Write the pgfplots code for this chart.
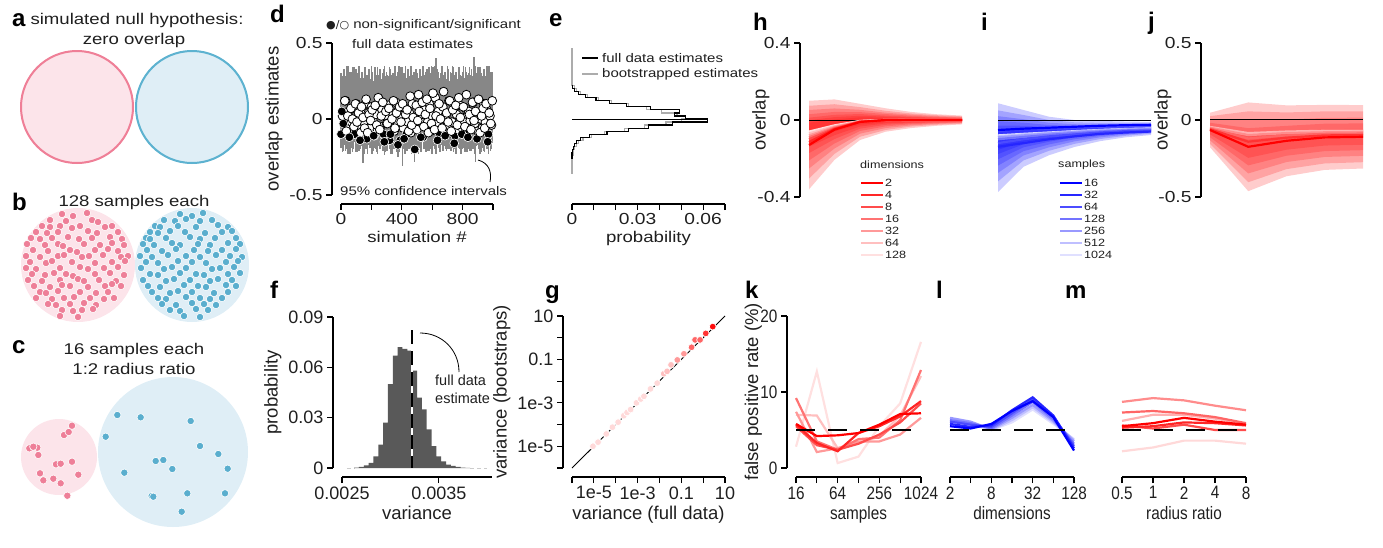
\documentclass[border=0pt]{standalone}
\usepackage{fontspec}
\setmainfont{Liberation Sans}
\newfontfamily\wide{Liberation Sans}[FakeStretch=1.2]
\newfontfamily\narrow{Liberation Sans}[FakeStretch=0.85]
\newfontfamily\symb{DejaVu Sans}
\usepackage{pgfplots}
\usepackage{pgfplotstable}
\pgfplotsset{compat=1.18}

\newcommand{\fs}[1]{\fontsize{#1}{#1}\selectfont}

\definecolor{pinkline}{HTML}{EF7F97}
\definecolor{pinkfill}{HTML}{FCE4EA}
\definecolor{blueline}{HTML}{5DB2D0}
\definecolor{bluefill}{HTML}{DFEEF6}
\definecolor{pinkdot}{HTML}{EE7F98}
\definecolor{bluedot}{HTML}{5AAECE}
\definecolor{histgray}{HTML}{595959}
\definecolor{cigray}{HTML}{878787}
\colorlet{txt}{black!88}

% simulations: estimate, 95% CI (lo, hi), class (b = black, w = white)
\pgfplotstableread{
x e lo hi c
5 0.05 -0.18 0.28 b
15 -0.03 -0.21 0.33 b
25 0.12 -0.16 0.25 w
35 -0.08 -0.20 0.30 w
45 0.02 -0.23 0.35 w
55 -0.12 -0.17 0.27 b
65 0.07 -0.19 0.31 w
75 0.00 -0.22 0.24 w
85 -0.05 -0.15 0.34 w
95 0.10 -0.20 0.29 w
105 -0.02 -0.22 0.30 w
115 0.04 -0.15 0.35 w
125 -0.14 -0.20 0.27 b
135 0.08 -0.18 0.31 w
145 0.01 -0.29 0.24 w
155 -0.06 -0.16 0.34 w
165 0.13 -0.20 0.29 w
175 -0.09 -0.23 0.28 w
185 0.03 -0.17 0.33 w
195 -0.01 -0.19 0.25 w
205 0.06 -0.23 0.31 w
215 -0.11 -0.17 0.24 b
225 0.09 -0.19 0.34 w
235 -0.04 -0.22 0.29 w
245 0.14 -0.15 0.28 w
255 -0.07 -0.20 0.33 w
265 0.02 -0.18 0.25 w
275 0.11 -0.21 0.30 w
285 -0.15 -0.24 0.35 b
295 0.05 -0.20 0.27 w
305 -0.03 -0.21 0.29 w
315 0.07 -0.16 0.28 w
325 -0.10 -0.20 0.33 b
335 0.00 -0.23 0.25 w
345 0.12 -0.17 0.30 w
355 -0.06 -0.19 0.35 w
365 0.04 -0.22 0.27 w
375 -0.17 -0.25 0.31 b
385 0.08 -0.20 0.24 w
395 -0.02 -0.18 0.34 w
405 0.10 -0.31 0.25 w
415 -0.13 -0.20 0.30 b
425 0.03 -0.18 0.35 w
435 0.06 -0.21 0.27 w
445 -0.08 -0.16 0.31 w
455 0.15 -0.20 0.24 w
465 -0.04 -0.23 0.34 w
475 0.01 -0.17 0.29 w
485 -0.20 -0.28 0.28 b
495 0.09 -0.22 0.33 w
505 -0.01 -0.17 0.27 w
515 0.05 -0.19 0.31 w
525 -0.12 -0.22 0.24 b
535 0.11 -0.15 0.34 w
545 -0.05 -0.20 0.29 w
555 0.03 -0.18 0.28 w
565 0.13 -0.21 0.33 w
575 -0.09 -0.16 0.25 w
585 0.07 -0.20 0.30 w
595 -0.03 -0.23 0.35 w
605 0.17 -0.16 0.34 w
615 -0.07 -0.20 0.29 w
625 0.02 -0.23 0.40 w
635 -0.14 -0.17 0.33 b
645 0.10 -0.19 0.25 w
655 0.00 -0.22 0.30 w
665 -0.06 -0.15 0.35 w
675 0.18 -0.20 0.27 w
685 -0.11 -0.18 0.31 b
695 0.04 -0.21 0.24 w
705 -0.02 -0.20 0.33 w
715 0.12 -0.18 0.25 w
725 -0.08 -0.21 0.30 w
735 0.06 -0.16 0.35 w
745 -0.16 -0.20 0.27 b
755 0.09 -0.23 0.31 w
765 -0.04 -0.17 0.24 w
775 0.14 -0.19 0.34 w
785 0.01 -0.22 0.29 w
795 -0.10 -0.15 0.28 b
805 0.08 -0.19 0.35 w
815 -0.05 -0.22 0.27 w
825 0.16 -0.15 0.31 w
835 -0.12 -0.20 0.24 b
845 0.03 -0.18 0.34 w
855 -0.07 -0.21 0.29 w
865 0.11 -0.16 0.28 w
875 -0.01 -0.20 0.41 w
885 0.05 -0.28 0.25 w
895 -0.13 -0.17 0.30 b
905 0.13 -0.20 0.24 w
915 -0.09 -0.23 0.34 w
925 0.02 -0.17 0.29 w
935 0.07 -0.19 0.28 w
945 -0.06 -0.22 0.33 w
955 0.10 -0.15 0.25 w
965 -0.15 -0.20 0.30 b
975 0.04 -0.18 0.35 w
985 -0.03 -0.21 0.27 w
995 0.12 -0.16 0.31 w
}\simdata

\pgfplotstableread{
x e lo hi c
0 -0.10 -0.19 0.30 b
10 0.02 -0.22 0.26 w
20 -0.03 -0.17 0.33 w
30 0.12 -0.21 0.28 w
40 -0.08 -0.16 0.35 w
50 0.05 -0.20 0.25 w
60 -0.06 -0.23 0.31 w
70 -0.02 -0.18 0.27 w
80 0.07 -0.20 0.34 w
90 -0.10 -0.15 0.29 b
100 0.10 -0.22 0.33 w
110 -0.04 -0.17 0.28 w
120 0.01 -0.21 0.35 w
130 -0.09 -0.16 0.25 w
140 0.06 -0.20 0.31 w
150 -0.02 -0.23 0.27 w
160 0.10 -0.18 0.34 w
170 -0.13 -0.20 0.29 b
180 0.04 -0.15 0.30 w
190 -0.06 -0.19 0.26 w
200 0.08 -0.17 0.35 w
210 -0.01 -0.21 0.25 w
220 -0.11 -0.16 0.31 b
230 0.03 -0.20 0.27 w
240 -0.07 -0.23 0.34 w
250 0.13 -0.18 0.29 w
260 -0.05 -0.20 0.30 w
270 0.06 -0.15 0.26 w
280 -0.10 -0.19 0.33 b
290 0.02 -0.22 0.28 w
300 -0.03 -0.21 0.31 w
310 0.09 -0.16 0.27 w
320 -0.14 -0.20 0.34 b
330 0.05 -0.23 0.29 w
340 0.00 -0.18 0.30 w
350 -0.08 -0.20 0.26 w
360 0.11 -0.15 0.33 w
370 -0.02 -0.19 0.28 w
380 0.06 -0.22 0.35 w
390 -0.14 -0.17 0.25 b
400 0.02 -0.16 0.34 w
410 -0.06 -0.20 0.29 w
420 0.07 -0.23 0.30 w
430 -0.10 -0.18 0.26 b
440 -0.02 -0.20 0.33 w
450 0.04 -0.15 0.28 w
460 -0.09 -0.19 0.35 w
470 0.10 -0.22 0.25 w
480 -0.04 -0.17 0.31 w
490 0.01 -0.21 0.27 w
500 -0.07 -0.20 0.30 w
510 0.16 -0.23 0.26 w
520 -0.01 -0.18 0.33 w
530 0.03 -0.20 0.28 w
540 -0.12 -0.15 0.35 b
550 0.06 -0.19 0.25 w
560 -0.05 -0.22 0.31 w
570 -0.02 -0.17 0.27 w
580 0.10 -0.21 0.34 w
590 -0.08 -0.16 0.29 w
600 0.02 -0.23 0.33 w
610 -0.06 -0.18 0.28 w
620 0.14 -0.20 0.35 w
630 -0.03 -0.15 0.25 w
640 0.05 -0.19 0.31 w
650 -0.10 -0.22 0.27 b
660 0.00 -0.17 0.34 w
670 0.08 -0.21 0.29 w
680 -0.06 -0.16 0.30 w
690 0.02 -0.20 0.26 w
700 -0.04 -0.18 0.35 w
710 0.12 -0.20 0.25 w
720 -0.09 -0.15 0.31 w
730 -0.02 -0.19 0.27 w
740 0.06 -0.22 0.34 w
750 -0.11 -0.17 0.29 b
760 0.03 -0.21 0.30 w
770 -0.07 -0.16 0.26 w
780 0.09 -0.20 0.33 w
790 -0.05 -0.23 0.28 w
800 0.01 -0.20 0.31 w
810 -0.02 -0.15 0.27 w
820 0.07 -0.19 0.34 w
830 -0.10 -0.22 0.29 b
840 0.05 -0.17 0.30 w
850 -0.01 -0.21 0.26 w
860 -0.06 -0.16 0.33 w
870 0.11 -0.20 0.28 w
880 -0.03 -0.23 0.35 w
890 0.02 -0.18 0.25 w
900 -0.08 -0.15 0.34 w
910 0.04 -0.19 0.29 w
920 0.00 -0.22 0.30 w
930 -0.06 -0.17 0.26 w
940 0.10 -0.21 0.33 w
950 -0.02 -0.16 0.28 w
960 0.06 -0.20 0.35 w
970 -0.10 -0.23 0.25 b
980 0.02 -0.18 0.31 w
990 -0.04 -0.20 0.27 w
}\simdatab

\pgfplotsset{
  panel/.style={scale only axis, enlargelimits=false, clip=false, scaled ticks=false,
    axis line style={-, line width=1.1pt, black},
    tick style={line width=1.1pt, black},
    tick align=outside, major tick length=6pt,
    axis x line shift=9pt, axis y line shift=9pt,
    tick label style={text=txt},
    ylabel style={font=\fs{18.5}, text=txt},
    xlabel style={text=txt}},
  wfont/.style={tick label style={font=\wide\fs{16}}, xlabel style={font=\wide\fs{15.5}}},
  pfont/.style={tick label style={font=\fs{18}}, xlabel style={font=\fs{18.5}}},
  nfont/.style={tick label style={font=\narrow\fs{18}}, xlabel style={font=\narrow\fs{18}}},
  ylabat/.style={ylabel style={at={(axis description cs:#1,0.5)}, anchor=south}},
  band/.style={fill=#1, fill opacity=0.2, draw=none, forget plot},
  ln/.style={line width=2.2pt, #1},
  simpts/.style={scatter, only marks, scatter src=explicit symbolic,
    scatter/classes={w={mark=*, mark size=4.4pt, fill=white, draw=black, line width=0.8pt},
                     b={mark=*, mark size=4.4pt, fill=black, draw=white, line width=0.6pt}}},
}

\begin{document}
\begin{tikzpicture}
\useasboundingbox (0,0) rectangle (1383pt,-548pt);

% ---------- a, b, c : sketches ----------
\begin{axis}[at={(0pt,0pt)}, anchor=north west, scale only axis, width=270pt, height=548pt,
  xmin=0, xmax=270, ymin=0, ymax=548, y dir=reverse, hide axis, clip=false]
\fill[pinkfill] (axis cs:77,107) circle[radius=57];
\draw[pinkline, line width=2pt] (axis cs:77,107) circle[radius=56];
\fill[bluefill] (axis cs:192,107) circle[radius=57];
\draw[blueline, line width=2pt] (axis cs:192,107) circle[radius=56];
\fill[pinkfill] (axis cs:78,265) circle[radius=57];
\fill[bluefill] (axis cs:192,265) circle[radius=57];
\fill[pinkfill] (axis cs:59,457) circle[radius=38];
\fill[bluefill] (axis cs:173,452) circle[radius=75];
\addplot[only marks, mark=*, mark size=3.7pt, mark options={fill=pinkdot, draw=white, line width=0.6pt}] coordinates {
(62,214)(73,216)(87,213)(50,220)(66,221)(92,220)(98,222)
(42,226)(50,227)(60,226)(72,228)(80,226)(105,227)(112,226)
(36,232)(47,233)(58,232)(88,231)(97,233)(118,232)
(31,238)(40,239)(52,238)(68,237)(79,239)(92,238)(110,237)(122,239)
(27,244)(45,245)(58,244)(63,246)(84,244)(100,245)(112,243)(124,245)
(33,250)(48,251)(70,250)(77,252)(95,250)(108,249)(118,251)
(26,256)(40,257)(58,256)(64,255)(82,257)(89,256)(103,255)(121,257)(128,256)
(30,262)(46,263)(52,261)(72,262)(95,263)(112,262)(125,261)
(26,268)(36,269)(60,268)(80,267)(88,269)(104,268)(118,267)
(32,274)(45,275)(54,273)(66,274)(73,276)(95,274)(110,273)(124,275)
(28,280)(42,281)(60,280)(78,279)(84,281)(99,280)(116,281)
(34,286)(50,287)(62,285)(70,286)(88,287)(105,286)(112,284)(121,286)
(40,292)(46,293)(58,291)(80,292)(96,293)(108,292)
(36,298)(52,299)(64,298)(74,297)(90,298)(104,299)(114,298)
(48,304)(56,305)(70,304)(84,303)(96,305)
(62,310)(73,311)(82,310)(93,309)(60,316)(78,317)};
\addplot[only marks, mark=*, mark size=3.7pt, mark options={fill=bluedot, draw=white, line width=0.6pt}] coordinates {
(180,214)(192,216)(203,213)(164,220)(175,221)(186,219)(200,221)(212,220)
(155,226)(160,227)(178,226)(196,227)(218,225)(228,227)
(150,232)(158,233)(170,231)(185,232)(205,233)(222,232)(232,231)
(146,238)(150,239)(166,238)(190,237)(200,239)(215,238)(236,238)
(143,244)(154,245)(172,243)(180,245)(198,244)(210,245)(228,243)(240,244)
(147,250)(162,251)(176,249)(194,250)(208,251)(222,250)(236,249)
(140,256)(152,257)(168,255)(186,256)(200,257)(216,255)(230,256)(242,257)
(146,262)(158,263)(178,261)(192,262)(206,263)(226,262)(238,261)
(141,268)(164,269)(172,267)(186,268)(212,269)(220,268)(234,267)
(150,274)(158,275)(180,273)(196,274)(204,275)(228,274)(240,273)
(143,280)(166,281)(174,279)(190,280)(210,281)(218,279)(232,280)
(148,286)(160,287)(184,285)(198,286)(206,287)(226,285)(236,286)
(152,292)(170,293)(178,291)(192,292)(214,293)(228,292)
(158,298)(166,299)(186,297)(200,298)(210,299)(222,298)
(162,304)(176,305)(192,303)(204,304)(216,305)
(170,310)(180,311)(196,309)(208,310)(184,316)(200,317)};
\addplot[only marks, mark=*, mark size=3.7pt, mark options={fill=pinkdot, draw=white, line width=0.6pt}] coordinates {
(29.3,448.3)(37.3,447.7)(38.3,455)(64,435)(68.7,432)(72,425.7)(56,464.3)(60.7,463.7)
(72,461.7)(40,473.3)(43.3,480.3)(53.3,478.7)(60.7,483.3)(78.3,474.7)(67.3,495.7)(33.3,446.7)};
\addplot[only marks, mark=*, mark size=3.7pt, mark options={fill=bluedot, draw=white, line width=0.6pt}] coordinates {
(117.3,415)(140.7,417.3)(190.7,421)(105.7,436.7)(200,446)(218.3,454)(155.7,461)(163.3,460)
(172.3,469)(124.3,472.7)(227.7,468.7)(187.3,493.3)(225,493.3)(151.7,496)(153.3,496.7)(181.7,511.7)};
\end{axis}

% ---------- d ----------
\begin{axis}[panel, wfont, axis x line*=bottom, axis y line*=left,
  at={(341pt,-195pt)}, anchor=south west, width=152pt, height=152pt,
  xmin=0, xmax=1000, ymin=-0.5, ymax=0.5,
  xtick={0,200,400,600,800,1000}, xticklabels={0,,400,,800,},
  ytick={-0.5,0,0.5}, yticklabels={-0.5,0,0.5},
  xlabel={simulation \#}, ylabel={overlap estimates}]
\addplot[ycomb, cigray, line width=1.5pt, mark=none] table[x=x, y=hi] \simdata;
\addplot[ycomb, cigray, line width=1.5pt, mark=none] table[x=x, y=lo] \simdata;
\addplot[ycomb, cigray, line width=1.5pt, mark=none] table[x=x, y=hi] \simdatab;
\addplot[ycomb, cigray, line width=1.5pt, mark=none] table[x=x, y=lo] \simdatab;
\addplot[simpts] table[x=x, y=e, meta=c] \simdatab;
\addplot[simpts] table[x=x, y=e, meta=c] \simdata;
\end{axis}

% ---------- e ----------
\begin{axis}[panel, wfont, axis x line*=bottom, axis y line=none,
  at={(572pt,-195pt)}, anchor=south west, width=153pt, height=152pt,
  xmin=0, xmax=0.07, ymin=-0.5, ymax=0.5,
  xtick={0,0.01,0.02,0.03,0.04,0.05,0.06,0.07}, xticklabels={0,,,0.03,,,0.06,},
  xlabel={probability}]
\addplot[gray!65, line width=1.2pt, const plot mark right] coordinates {
(0,-0.36)(0.0005,-0.24)(0.0008,-0.22)(0.0012,-0.20)(0.002,-0.18)(0.003,-0.16)(0.005,-0.14)
(0.009,-0.12)(0.015,-0.10)(0.024,-0.08)(0.033,-0.06)(0.043,-0.04)(0.05,-0.02)(0.052,0)
(0.048,0.02)(0.041,0.04)(0.034,0.06)(0.026,0.08)(0.018,0.10)(0.012,0.12)(0.007,0.14)
(0.004,0.16)(0.002,0.18)(0.001,0.20)(0,0.22)(0,0.47)};
\addplot[black, line width=1.2pt, const plot mark right] coordinates {
(0,-0.26)(0.0003,-0.22)(0.0008,-0.20)(0.0012,-0.18)(0.002,-0.16)(0.004,-0.14)(0.008,-0.12)
(0.016,-0.10)(0.026,-0.08)(0.035,-0.06)(0.046,-0.04)(0.062,-0.02)(0.052,0)(0.047,0.02)
(0.049,0.04)(0.036,0.06)(0.025,0.08)(0.017,0.10)(0.011,0.12)(0.006,0.14)(0.003,0.16)
(0.001,0.18)(0.0003,0.20)(0,0.22)};
\addplot[black, line width=1pt] coordinates {(0,0)(0.061,0)};
\end{axis}

% ---------- f ----------
\begin{axis}[panel, pfont, axis x line*=bottom, axis y line*=left,
  at={(342pt,-468pt)}, anchor=south west, width=150pt, height=151pt,
  xmin=0.0025, xmax=0.00405, ymin=0, ymax=0.09,
  xtick={0.0025,0.0035}, xticklabels={0.0025,0.0035},
  ytick={0,0.03,0.06,0.09}, yticklabels={0,0.03,0.06,0.09},
  xlabel={variance}, ylabel={probability}]
\addplot[gray!40, line width=1pt, dash pattern=on 4pt off 3pt] coordinates {(0.00255,0)(0.002625,0)};
\addplot[gray!40, line width=1pt, dash pattern=on 4pt off 3pt] coordinates {(0.003825,0)(0.004,0)};
\addplot[ybar interval, fill=histgray, draw=none] coordinates {
(0.002625,0.0002)(0.002675,0.0006)(0.002725,0.0016)(0.002775,0.003)(0.002825,0.007)
(0.002875,0.014)(0.002925,0.027)(0.002975,0.050)(0.003025,0.067)(0.003075,0.072)
(0.003125,0.071)(0.003175,0.070)(0.003225,0.058)(0.003275,0.042)(0.003325,0.035)
(0.003375,0.023)(0.003425,0.013)(0.003475,0.007)(0.003525,0.004)(0.003575,0.002)
(0.003625,0.0012)(0.003675,0.0006)(0.003725,0.0003)(0.003775,0.0001)(0.003825,0)};
\addplot[white, line width=2pt] coordinates {(0.00322,0)(0.00322,0.082)};
\addplot[black, line width=2pt, dash pattern=on 14pt off 7pt] coordinates {(0.00322,0.082)(0.00322,0)};
\end{axis}

% ---------- g ----------
\begin{axis}[panel, pfont, axis x line*=bottom, axis y line*=left,
  at={(572pt,-468pt)}, anchor=south west, width=153pt, height=152pt,
  xmode=log, ymode=log, xmin=1e-6, xmax=10, ymin=1e-6, ymax=10,
  minor tick length=0pt,
  xtick={1e-6,1e-5,1e-4,1e-3,1e-2,1e-1,1,10}, xticklabels={,1e-5,,1e-3,,0.1,,10},
  ytick={1e-6,1e-5,1e-4,1e-3,1e-2,1e-1,1,10}, yticklabels={,1e-5,,1e-3,,0.1,,10},
  xlabel={variance (full data)}, ylabel={variance (bootstraps)}]
\addplot[black, line width=0.9pt] coordinates {(1e-6,1e-6)(10,10)};
\addplot[only marks, mark=*, mark size=3.4pt, mark options={fill=red!15, draw=white, line width=0.7pt}] coordinates {
(9.1e-6,1e-5)(1.55e-5,1.55e-5)(3.7e-5,3.7e-5)(7.1e-5,7.6e-5)(1.29e-4,1.29e-4)(2.34e-4,2.57e-4)
(3.3e-4,3.6e-4)(4.8e-4,4.9e-4)(8.9e-4,1e-3)(1.4e-3,1.5e-3)(1.95e-3,2.0e-3)(3.9e-3,4.4e-3)(7.9e-3,8.1e-3)};
\addplot[only marks, mark=*, mark size=3.4pt, mark options={fill=red!25, draw=white, line width=0.7pt}] coordinates {
(0.0158,0.0219)(0.0224,0.0282)(0.0339,0.0562)};
\addplot[only marks, mark=*, mark size=3.4pt, mark options={fill=red!40, draw=white, line width=0.7pt}] coordinates {
(0.066,0.095)(0.132,0.182)};
\addplot[only marks, mark=*, mark size=3.4pt, mark options={fill=red!60, draw=white, line width=0.7pt}] coordinates {
(0.295,0.363)(0.427,0.794)(0.724,0.794)};
\addplot[only marks, mark=*, mark size=3.4pt, mark options={fill=red!80, draw=white, line width=0.7pt}] coordinates {
(1.32,1.58)};
\addplot[only marks, mark=*, mark size=3.4pt, mark options={fill=red!95, draw=white, line width=0.7pt}] coordinates {
(2.75,3.24)};
\end{axis}

% ---------- h ----------
\begin{axis}[panel, wfont, axis y line*=left, axis x line=none, ylabat=-0.235,
  at={(809pt,-197pt)}, anchor=south west, width=153pt, height=154pt,
  xmin=4, xmax=10, ymin=-0.4, ymax=0.4,
  ytick={-0.4,0,0.4}, yticklabels={-0.4,0,0.4}, ylabel={overlap}]
\addplot[band=red] coordinates {(4,-0.36)(5,-0.207)(6,-0.104)(7,-0.061)(8,-0.042)(9,-0.03)(10,-0.023)(10,0.023)(9,0.03)(8,0.042)(7,0.061)(6,0.084)(5,0.107)(4,0.10)} -- cycle;
\addplot[band=red] coordinates {(4,-0.304)(5,-0.176)(6,-0.087)(7,-0.052)(8,-0.034)(9,-0.025)(10,-0.019)(10,0.019)(9,0.025)(8,0.034)(7,0.048)(6,0.067)(5,0.082)(4,0.074)} -- cycle;
\addplot[band=red] coordinates {(4,-0.252)(5,-0.148)(6,-0.071)(7,-0.042)(8,-0.028)(9,-0.02)(10,-0.015)(10,0.015)(9,0.02)(8,0.028)(7,0.038)(6,0.053)(5,0.06)(4,0.052)} -- cycle;
\addplot[band=red] coordinates {(4,-0.21)(5,-0.122)(6,-0.057)(7,-0.033)(8,-0.022)(9,-0.016)(10,-0.012)(10,0.012)(9,0.016)(8,0.022)(7,0.031)(6,0.041)(5,0.042)(4,0.03)} -- cycle;
\addplot[band=red] coordinates {(4,-0.172)(5,-0.099)(6,-0.045)(7,-0.025)(8,-0.017)(9,-0.012)(10,-0.009)(10,0.009)(9,0.012)(8,0.017)(7,0.023)(6,0.031)(5,0.027)(4,0.012)} -- cycle;
\addplot[band=red] coordinates {(4,-0.139)(5,-0.079)(6,-0.034)(7,-0.018)(8,-0.013)(9,-0.009)(10,-0.007)(10,0.007)(9,0.009)(8,0.013)(7,0.018)(6,0.022)(5,0.015)(4,-0.001)} -- cycle;
\addplot[band=red] coordinates {(4,-0.106)(5,-0.059)(6,-0.024)(7,-0.012)(8,-0.008)(9,-0.006)(10,-0.005)(10,0.005)(9,0.006)(8,0.008)(7,0.012)(6,0.014)(5,0.003)(4,-0.014)} -- cycle;
\addplot[black, line width=1pt] coordinates {(4,0)(10,0)};
\addplot[ln=red!12] coordinates {(4,-0.06)(5,-0.028)(6,-0.005)(7,0)(8,0)(9,0)(10,0)};
\addplot[ln=red!25] coordinates {(4,-0.07)(5,-0.032)(6,-0.006)(7,0)(8,0)(9,0)(10,0)};
\addplot[ln=red!40] coordinates {(4,-0.08)(5,-0.036)(6,-0.007)(7,-0.001)(8,0)(9,0)(10,0)};
\addplot[ln=red!55] coordinates {(4,-0.09)(5,-0.04)(6,-0.008)(7,-0.001)(8,0)(9,0)(10,0)};
\addplot[ln=red!70] coordinates {(4,-0.10)(5,-0.044)(6,-0.009)(7,-0.002)(8,0)(9,0)(10,0)};
\addplot[ln=red!85] coordinates {(4,-0.115)(5,-0.047)(6,-0.01)(7,-0.002)(8,0)(9,0)(10,0)};
\addplot[ln=red] coordinates {(4,-0.13)(5,-0.05)(6,-0.01)(7,0)(8,0)(9,0)(10,0)};
\end{axis}

% ---------- i ----------
\begin{axis}[panel, hide axis,
  at={(998pt,-197pt)}, anchor=south west, width=153pt, height=154pt,
  xmin=1, xmax=7, ymin=-0.4, ymax=0.4]
\addplot[band=blue] coordinates {(1,-0.374)(2,-0.243)(3,-0.183)(4,-0.14)(5,-0.11)(6,-0.09)(7,-0.078)(7,-0.01)(6,-0.008)(5,-0.005)(4,0)(3,0.017)(2,0.052)(1,0.087)} -- cycle;
\addplot[band=blue] coordinates {(1,-0.319)(2,-0.21)(3,-0.16)(4,-0.124)(5,-0.099)(6,-0.082)(7,-0.071)(7,-0.017)(6,-0.016)(5,-0.015)(4,-0.012)(3,0)(2,0.026)(1,0.05)} -- cycle;
\addplot[band=blue] coordinates {(1,-0.275)(2,-0.184)(3,-0.142)(4,-0.111)(5,-0.09)(6,-0.076)(7,-0.066)(7,-0.023)(6,-0.023)(5,-0.023)(4,-0.022)(3,-0.014)(2,0.004)(1,0.02)} -- cycle;
\addplot[band=blue] coordinates {(1,-0.237)(2,-0.162)(3,-0.127)(4,-0.1)(5,-0.083)(6,-0.07)(7,-0.062)(7,-0.027)(6,-0.029)(5,-0.03)(4,-0.03)(3,-0.026)(2,-0.014)(1,-0.006)} -- cycle;
\addplot[band=blue] coordinates {(1,-0.204)(2,-0.142)(3,-0.113)(4,-0.09)(5,-0.076)(6,-0.065)(7,-0.058)(7,-0.032)(6,-0.034)(5,-0.036)(4,-0.037)(3,-0.037)(2,-0.03)(1,-0.029)} -- cycle;
\addplot[band=blue] coordinates {(1,-0.177)(2,-0.126)(3,-0.102)(4,-0.082)(5,-0.07)(6,-0.061)(7,-0.054)(7,-0.035)(6,-0.038)(5,-0.041)(4,-0.043)(3,-0.046)(2,-0.043)(1,-0.048)} -- cycle;
\addplot[band=blue] coordinates {(1,-0.155)(2,-0.113)(3,-0.093)(4,-0.076)(5,-0.066)(6,-0.058)(7,-0.052)(7,-0.038)(6,-0.042)(5,-0.045)(4,-0.048)(3,-0.053)(2,-0.054)(1,-0.063)} -- cycle;
\addplot[black, line width=1pt] coordinates {(1,0)(7,0)};
\addplot[ln=blue!12] coordinates {(1,-0.08)(2,-0.072)(3,-0.065)(4,-0.058)(5,-0.052)(6,-0.047)(7,-0.044)};
\addplot[ln=blue!25] coordinates {(1,-0.085)(2,-0.075)(3,-0.067)(4,-0.06)(5,-0.053)(6,-0.048)(7,-0.045)};
\addplot[ln=blue!40] coordinates {(1,-0.09)(2,-0.08)(3,-0.07)(4,-0.062)(5,-0.055)(6,-0.05)(7,-0.047)};
\addplot[ln=blue!55] coordinates {(1,-0.10)(2,-0.088)(3,-0.077)(4,-0.068)(5,-0.06)(6,-0.054)(7,-0.05)};
\addplot[ln=blue!70] coordinates {(1,-0.12)(2,-0.10)(3,-0.085)(4,-0.075)(5,-0.065)(6,-0.058)(7,-0.055)};
\addplot[ln=blue!85] coordinates {(1,-0.139)(2,-0.12)(3,-0.10)(4,-0.085)(5,-0.072)(6,-0.065)(7,-0.06)};
\addplot[ln=blue] coordinates {(1,-0.052)(2,-0.045)(3,-0.04)(4,-0.035)(5,-0.03)(6,-0.027)(7,-0.025)};
\end{axis}

% ---------- j ----------
\begin{axis}[panel, wfont, axis y line*=left, axis x line=none, ylabat=-0.229,
  at={(1210pt,-197pt)}, anchor=south west, width=153pt, height=154pt,
  xmin=-1, xmax=3, ymin=-0.5, ymax=0.5,
  ytick={-0.5,0,0.5}, yticklabels={-0.5,0,0.5}, ylabel={overlap}]
\addplot[band=red] coordinates {(-1,-0.177)(0,-0.462)(1,-0.365)(2,-0.324)(3,-0.315)(3,0.097)(2,0.098)(1,0.095)(0,0.114)(-1,0.047)} -- cycle;
\addplot[band=red] coordinates {(-1,-0.155)(0,-0.404)(1,-0.319)(2,-0.282)(3,-0.274)(3,0.056)(2,0.056)(1,0.049)(0,0.056)(-1,0.025)} -- cycle;
\addplot[band=red] coordinates {(-1,-0.132)(0,-0.347)(1,-0.273)(2,-0.24)(3,-0.233)(3,0.015)(2,0.014)(1,0.003)(0,-0.001)(-1,0.002)} -- cycle;
\addplot[band=red] coordinates {(-1,-0.112)(0,-0.295)(1,-0.232)(2,-0.202)(3,-0.196)(3,-0.022)(2,-0.024)(1,-0.038)(0,-0.053)(-1,-0.018)} -- cycle;
\addplot[band=red] coordinates {(-1,-0.093)(0,-0.246)(1,-0.193)(2,-0.166)(3,-0.161)(3,-0.057)(2,-0.06)(1,-0.077)(0,-0.102)(-1,-0.037)} -- cycle;
\addplot[black, line width=1pt] coordinates {(-1,0)(3,0)};
\addplot[ln=red!30] coordinates {(-1,-0.045)(0,-0.085)(1,-0.075)(2,-0.07)(3,-0.07)};
\addplot[ln=red!45] coordinates {(-1,-0.05)(0,-0.098)(1,-0.085)(2,-0.08)(3,-0.078)};
\addplot[ln=red!60] coordinates {(-1,-0.055)(0,-0.12)(1,-0.10)(2,-0.09)(3,-0.088)};
\addplot[ln=red!80] coordinates {(-1,-0.06)(0,-0.141)(1,-0.115)(2,-0.10)(3,-0.098)};
\addplot[ln=red] coordinates {(-1,-0.065)(0,-0.174)(1,-0.135)(2,-0.113)(3,-0.109)};
\end{axis}

% ---------- k ----------
\begin{axis}[panel, nfont, axis x line*=bottom, axis y line*=left, ylabat=-0.245,
  at={(796pt,-468pt)}, anchor=south west, width=125pt, height=152pt,
  xmin=4, xmax=10, ymin=0, ymax=20,
  xtick={4,...,10}, xticklabels={16,,64,,256,,1024},
  ytick={0,10,20}, yticklabels={0,10,20},
  xlabel={samples}, ylabel={false positive rate (\%)}]
\addplot[ln=red!12] coordinates {(4,2.8)(5,12.7)(6,0.65)(7,1.5)(8,5.5)(9,8.5)(10,16.6)};
\addplot[ln=red!25] coordinates {(4,7.0)(5,6.9)(6,2.6)(7,3.2)(8,4.2)(9,6.9)(10,12.1)};
\addplot[ln=red!40] coordinates {(4,7.4)(5,2.1)(6,2.6)(7,3.5)(8,3.5)(9,4.4)(10,6.6)};
\addplot[ln=red!55] coordinates {(4,9.2)(5,3.5)(6,2.4)(7,3.8)(8,4.0)(9,6.3)(10,12.9)};
\addplot[ln=red!70] coordinates {(4,5.5)(5,3.0)(6,2.4)(7,3.2)(8,4.4)(9,6.0)(10,8.5)};
\addplot[ln=red!85] coordinates {(4,5.7)(5,3.3)(6,2.2)(7,4.6)(8,5.5)(9,6.8)(10,8.8)};
\addplot[ln=red] coordinates {(4,5.8)(5,4.2)(6,4.3)(7,4.6)(8,5.7)(9,7.1)(10,7.2)};
\addplot[black, line width=2.6pt, dash pattern=on 19pt off 13pt] coordinates {(4,5)(10,5)};
\end{axis}

% ---------- l ----------
\begin{axis}[panel, nfont, axis x line*=bottom, axis y line=none,
  at={(950pt,-468pt)}, anchor=south west, width=124pt, height=152pt,
  xmin=1, xmax=7, ymin=0, ymax=20,
  xtick={1,...,7}, xticklabels={2,,8,,32,,128}, xlabel={dimensions}]
\addplot[ln=blue!12] coordinates {(1,6.2)(2,5.8)(3,5.0)(4,6.0)(5,7.7)(6,5.8)(7,3.8)};
\addplot[ln=blue!25] coordinates {(1,6.4)(2,6.0)(3,5.0)(4,6.3)(5,8.0)(6,6.0)(7,3.7)};
\addplot[ln=blue!40] coordinates {(1,6.6)(2,6.1)(3,5.1)(4,6.6)(5,8.3)(6,6.2)(7,3.5)};
\addplot[ln=blue!55] coordinates {(1,6.3)(2,5.9)(3,5.2)(4,6.9)(5,8.7)(6,6.4)(7,3.2)};
\addplot[ln=blue!70] coordinates {(1,6.1)(2,5.7)(3,5.4)(4,7.2)(5,9.0)(6,6.7)(7,2.9)};
\addplot[ln=blue!85] coordinates {(1,5.8)(2,5.4)(3,5.6)(4,7.6)(5,9.3)(6,6.9)(7,2.6)};
\addplot[ln=blue] coordinates {(1,5.5)(2,5.2)(3,5.8)(4,7.5)(5,8.8)(6,6.7)(7,2.3)};
\addplot[black, line width=2.6pt, dash pattern=on 19pt off 13pt] coordinates {(1,5)(6.75,5)};
\end{axis}

% ---------- m ----------
\begin{axis}[panel, nfont, axis x line*=bottom, axis y line=none,
  at={(1122pt,-468pt)}, anchor=south west, width=124pt, height=152pt,
  xmin=-1, xmax=3, ymin=0, ymax=20,
  xtick={-1,...,3}, xticklabels={0.5,1,2,4,8}, xlabel={radius ratio}]
\addplot[ln=red!15] coordinates {(-1,2.2)(0,2.7)(1,3.6)(2,3.6)(3,3.2)};
\addplot[ln=red!30] coordinates {(-1,6.2)(0,7.0)(1,7.0)(2,6.5)(3,5.8)};
\addplot[ln=red!45] coordinates {(-1,8.7)(0,9.2)(1,8.9)(2,8.2)(3,7.6)};
\addplot[ln=red!60] coordinates {(-1,7.3)(0,7.5)(1,7.2)(2,6.7)(3,5.9)};
\addplot[ln=red!70] coordinates {(-1,5.6)(0,5.2)(1,5.7)(2,5.0)(3,5.0)};
\addplot[ln=red!85] coordinates {(-1,5.3)(0,5.5)(1,6.0)(2,5.9)(3,5.6)};
\addplot[ln=red] coordinates {(-1,5.5)(0,5.9)(1,6.6)(2,6.1)(3,5.7)};
\addplot[black, line width=2.6pt, dash pattern=on 19pt off 13pt] coordinates {(-1,5)(2.95,5)};
\end{axis}

% ---------- texts, letters, legends ----------
\begin{scope}[x=1pt, y=-1pt, text=txt]
\foreach \l/\x/\y in {a/12/27, b/12/210, c/12/353, d/270/23, e/549/27, f/270/298, g/545/298,
  h/753/31, i/981/31, j/1148/30, k/745/298, l/936/298, m/1065/298}
  \node[anchor=base west, inner sep=0pt, font=\bfseries\fs{24}, text=black] at (\x,\y) {\l};
\node[anchor=base, font=\wide\fs{15.5}] at (137,25) {simulated null hypothesis:};
\node[anchor=base, font=\wide\fs{15.5}] at (134,45) {zero overlap};
\node[anchor=base, font=\wide\fs{15.5}] at (134,206) {128 samples each};
\node[anchor=base, font=\wide\fs{15.5}] at (134,354) {16 samples each};
\node[anchor=base, font=\wide\fs{15.5}] at (134,374) {1:2 radius ratio};
% d notes
\node[anchor=base west, inner sep=0pt, font=\wide\fs{12.5}] at (326,29) {{\symb\fs{11}●/○} non-significant/significant};
\node[anchor=base west, inner sep=0pt, font=\wide\fs{12.5}] at (352,49) {full data estimates};
\node[anchor=base west, inner sep=0pt, font=\wide\fs{12.5}] at (340,196) {95\% confidence intervals};
\draw[black, line width=0.8pt] (478,160) .. controls (489,163) and (492,172) .. (490,182);
% e legend
\draw[black, line width=1.2pt] (582,58) -- (598,58);
\node[anchor=west, inner sep=0pt, font=\wide\fs{12.5}] at (602,58) {full data estimates};
\draw[gray!65, line width=1.2pt] (582,74) -- (598,74);
\node[anchor=west, inner sep=0pt, font=\wide\fs{12.5}] at (602,74) {bootstrapped estimates};
% f note
\node[anchor=base west, inner sep=0pt, font=\fs{14.5}] at (435,385) {full data};
\node[anchor=base west, inner sep=0pt, font=\fs{14.5}] at (435,403) {estimate};
\draw[black, line width=0.8pt] (420,333) .. controls (442,333) and (459,350) .. (459,372);
% h legend
\node[anchor=west, inner sep=0pt, font=\wide\fs{10.5}] at (860,165) {dimensions};
\foreach \c/\t [count=\i from 0] in {red/2, red!85/4, red!70/8, red!55/16, red!40/32, red!25/64, red!12/128} {
  \draw[\c, line width=2pt] (861,{183+12*\i}) -- (883,{183+12*\i});
  \node[anchor=west, inner sep=0pt, font=\wide\fs{10.5}] at (885,{183+12*\i}) {\t};
}
% i legend
\node[anchor=west, inner sep=0pt, font=\wide\fs{10.5}] at (1058,165) {samples};
\foreach \c/\t [count=\i from 0] in {blue/16, blue!85/32, blue!70/64, blue!55/128, blue!40/256, blue!25/512, blue!12/1024} {
  \draw[\c, line width=2pt] (1060,{183+12*\i}) -- (1082,{183+12*\i});
  \node[anchor=west, inner sep=0pt, font=\wide\fs{10.5}] at (1084,{183+12*\i}) {\t};
}
\end{scope}
\end{tikzpicture}
\end{document}
